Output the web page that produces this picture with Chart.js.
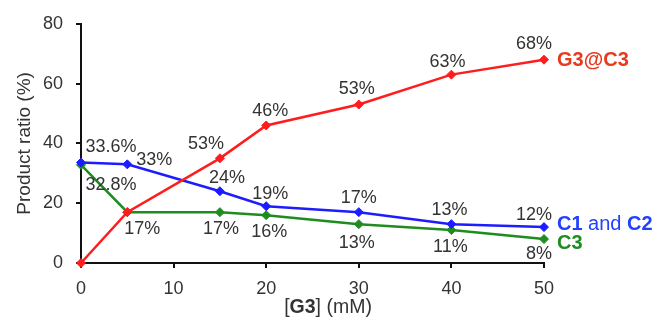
<!DOCTYPE html>
<html>
<head>
<meta charset="utf-8">
<script src="https://cdn.jsdelivr.net/npm/chart.js@4/dist/chart.umd.min.js"></script>
<style>
  html, body { margin: 0; padding: 0; background: #fff; }
  #wrap { width: 657px; height: 322px; position: relative; }
</style>
</head>
<body>
<div id="wrap"><canvas id="c" width="657" height="322"></canvas></div>
<script>
// ---- data ----
const concentrations = [0, 5, 15, 20, 30, 40, 50];
const g3c3Values = [0, 17, 35, 46, 53, 63, 68];
const c1c2Values = [33.6, 33, 24, 19, 17, 13, 12];
const c3Values = [32.8, 17, 17, 16, 13, 11, 8];
const g3c3Labels = ['', '', '53%', '46%', '53%', '63%', '68%'];
const c1c2Labels = ['33.6%', '33%', '24%', '19%', '17%', '13%', '12%'];
const c3Labels = ['32.8%', '17%', '17%', '16%', '13%', '11%', '8%'];
const xTicks = [0, 10, 20, 30, 40, 50];
const yTicks = [0, 20, 40, 60, 80];

// ---- label placement (pixel offsets from each point) ----
const g3c3Offsets = [[0,0],[0,0],[-14,-14],[4,-14],[-2,-15],[-4,-13],[-10,-16]];
const c1c2Offsets = [[30,-16],[27,-4],[7,-13],[4,-12],[0,-14],[-2,-14],[-10,-12]];
const c3Offsets = [[30,20],[15,17],[1,17],[3,17],[-2,19],[-1,17],[-5,15]];

const RED = '#ff1c1c', BLUE = '#1c1cff', GREEN = '#1f8c1f';
const FONT = '"Liberation Sans", Arial, Helvetica, sans-serif';

function pts(vals) { return concentrations.map((x, i) => ({ x: x, y: vals[i] })); }

const labelPlugin = {
  id: 'labels',
  afterDatasetsDraw(chart) {
    const ctx = chart.ctx;
    const xs = chart.scales.x, ys = chart.scales.y;
    const sets = [
      [g3c3Values, g3c3Labels, g3c3Offsets],
      [c1c2Values, c1c2Labels, c1c2Offsets],
      [c3Values, c3Labels, c3Offsets]
    ];
    ctx.save();
    ctx.font = '18px ' + FONT;
    ctx.fillStyle = '#333333';
    ctx.textAlign = 'center';
    ctx.textBaseline = 'middle';
    sets.forEach(([vals, labs, offs]) => {
      vals.forEach((v, i) => {
        if (!labs[i]) return;
        const px = xs.getPixelForValue(concentrations[i]);
        const py = ys.getPixelForValue(v);
        ctx.fillText(labs[i], px + offs[i][0], py + offs[i][1]);
      });
    });
    // series names at line ends
    const last = concentrations.length - 1;
    const ex = xs.getPixelForValue(concentrations[last]) + 13;
    ctx.textAlign = 'left';
    function runs(parts, x, y) {
      parts.forEach(([t, bold, col]) => {
        ctx.font = (bold ? 'bold ' : '') + '20px ' + FONT;
        ctx.fillStyle = col;
        ctx.fillText(t, x, y);
        x += ctx.measureText(t).width;
      });
    }
    runs([['G3@C3', true, '#e8381e']], ex, ys.getPixelForValue(g3c3Values[last]) + 1);
    runs([['C1', true, '#2440ff'], [' and ', false, '#2440ff'], ['C2', true, '#2440ff']], ex, ys.getPixelForValue(c1c2Values[last]) - 3);
    runs([['C3', true, '#1f8c1f']], ex, ys.getPixelForValue(c3Values[last]) + 4);
    // x axis title with bold G3
    const parts = [['[', false], ['G3', true], [']', false], [' (mM)', false]];
    let total = 0;
    parts.forEach(([t, b]) => { ctx.font = (b ? 'bold ' : '') + '19.5px ' + FONT; total += ctx.measureText(t).width; });
    let x = 328 - total / 2;
    ctx.fillStyle = '#333333';
    parts.forEach(([t, b]) => {
      ctx.font = (b ? 'bold ' : '') + '19.5px ' + FONT;
      ctx.fillText(t, x, 308);
      x += ctx.measureText(t).width;
    });
    ctx.restore();
  }
};

new Chart(document.getElementById('c'), {
  type: 'line',
  data: {
    datasets: [
      { label: 'G3@C3', data: pts(g3c3Values), borderColor: RED, backgroundColor: RED },
      { label: 'C1 and C2', data: pts(c1c2Values), borderColor: BLUE, backgroundColor: BLUE },
      { label: 'C3', data: pts(c3Values), borderColor: GREEN, backgroundColor: GREEN }
    ]
  },
  options: {
    responsive: false,
    animation: false,
    devicePixelRatio: 1,
    layout: { padding: { top: 20, right: 113, left: 0, bottom: 0 } },
    elements: {
      line: { borderWidth: 2.5, tension: 0 },
      point: { pointStyle: 'rectRot', radius: 4.5, borderWidth: 1 }
    },
    datasets: { line: { clip: false } },
    plugins: { legend: { display: false }, tooltip: { enabled: false } },
    scales: {
      x: {
        type: 'linear', min: 0, max: 50,
        afterFit(s) { s.height = 59; },
        afterBuildTicks(s) { s.ticks = xTicks.map(v => ({ value: v })); },
        grid: { drawOnChartArea: false, color: '#111', lineWidth: 2, tickLength: 5 },
        border: { color: '#111', width: 2 },
        ticks: { color: '#333', padding: 10, font: { family: FONT, size: 18 }, maxRotation: 0 }
      },
      y: {
        type: 'linear', min: 0, max: 80,
        afterFit(s) { s.width = 81; },
        afterBuildTicks(s) { s.ticks = yTicks.map(v => ({ value: v })); },
        grid: { drawOnChartArea: false, color: '#111', lineWidth: 2, tickLength: 5 },
        border: { color: '#111', width: 2 },
        ticks: { color: '#333', padding: 13, font: { family: FONT, size: 18 } },
        title: { display: true, text: 'Product ratio (%)', color: '#333', font: { family: FONT, size: 19 }, padding: { top: 13, bottom: 0 } }
      }
    }
  },
  plugins: [labelPlugin]
});
</script>
</body>
</html>
